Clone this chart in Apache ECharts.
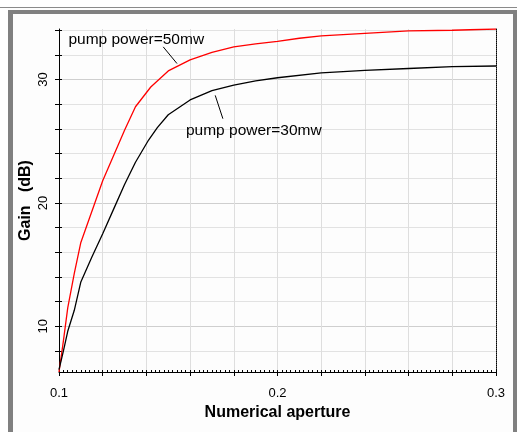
<!DOCTYPE html>
<html>
<head>
<meta charset="utf-8">
<script src="https://cdn.jsdelivr.net/npm/echarts@6/dist/echarts.min.js"></script>
<style>
html, body { margin: 0; padding: 0; background: #fff; }
#main { width: 517px; height: 432px; }
</style>
</head>
<body>
<div id="main"></div>
<script>
// pump power = 50mw (red)
var na50 = [0.100, 0.102, 0.104, 0.107, 0.110, 0.120, 0.130, 0.135, 0.142, 0.150, 0.160, 0.170, 0.180, 0.190, 0.200, 0.210, 0.220, 0.240, 0.260, 0.280, 0.300];
var gain50 = [6.3, 8.8, 11.5, 14.3, 16.8, 21.8, 25.9, 27.8, 29.4, 30.7, 31.6, 32.2, 32.65, 32.9, 33.1, 33.35, 33.55, 33.75, 33.95, 34.0, 34.1];
// pump power = 30mw (black)
var na30 = [0.100, 0.102, 0.104, 0.107, 0.110, 0.115, 0.120, 0.125, 0.130, 0.135, 0.141, 0.145, 0.150, 0.160, 0.170, 0.180, 0.190, 0.200, 0.220, 0.240, 0.260, 0.280, 0.300];
var gain30 = [6.5, 8.0, 9.6, 11.3, 13.6, 15.6, 17.5, 19.5, 21.5, 23.3, 25.1, 26.1, 27.15, 28.35, 29.1, 29.55, 29.9, 30.15, 30.55, 30.75, 30.9, 31.05, 31.1];

var yTicks = [8, 10, 12, 14, 16, 18, 20, 22, 24, 26, 28, 30, 32, 34];
var yLabels = [10, 20, 30];
var xLabels = [0.1, 0.2, 0.3];

var name50 = 'pump power=50mw';
var name30 = 'pump power=30mw';

function pairs(xs, ys) {
	var out = [];
	for (var i = 0; i < xs.length; i++) {
		out.push([xs[i], ys[i]]);
	}
	return out;
}

var font = 'Liberation Sans, Arial, sans-serif';

var chart = echarts.init(document.getElementById('main'));
var option = {
	backgroundColor: '#fdfdfd',
	animation: false,
	graphic: [
		{ type: 'rect', shape: { x: 0, y: 0, width: 517, height: 7 }, style: { fill: '#fff' } },
		{ type: 'rect', shape: { x: 0, y: 7, width: 517, height: 1 }, style: { fill: '#8a8a8a' } },
		{ type: 'rect', shape: { x: 0, y: 8, width: 8, height: 424 }, style: { fill: '#fff' } },
		{ type: 'rect', shape: { x: 8, y: 10, width: 509, height: 4 }, style: { fill: '#808080' } },
		{ type: 'rect', shape: { x: 8, y: 10, width: 5, height: 422 }, style: { fill: '#808080' } },
		{ type: 'rect', shape: { x: 513, y: 10, width: 4, height: 422 }, style: { fill: '#808080' } }
	],
	grid: {
		left: 59,
		right: 21,
		top: 29,
		bottom: 60
	},
	xAxis: [{
		type: 'value',
		min: 0.1,
		max: 0.3,
		interval: 0.02,
		name: 'Numerical aperture',
		nameLocation: 'middle',
		nameGap: 31,
		nameTextStyle: { color: '#000', fontSize: 16, fontWeight: 'bold', fontFamily: font },
		axisLine: { onZero: false, lineStyle: { color: '#000', width: 1 } },
		axisTick: { show: true, length: 4, lineStyle: { color: '#000' } },
		axisLabel: {
			color: '#000',
			fontSize: 13,
			fontFamily: font,
			margin: 15,
			formatter: function (v) {
				var r = Math.round(v * 100) / 100;
				return xLabels.indexOf(r) >= 0 ? r.toFixed(1) : '';
			}
		},
		splitLine: { show: true, lineStyle: { color: '#dedede', width: 1 } }
	}, {
		// dense hatch along the bottom axis
		type: 'value',
		min: 0.1,
		max: 0.3,
		interval: 0.002,
		position: 'bottom',
		axisLine: { show: false },
		axisTick: { show: true, inside: true, length: 2, lineStyle: { color: '#000' } },
		axisLabel: { show: false },
		splitLine: { show: false }
	}],
	yAxis: [{
		type: 'value',
		min: 6.3,
		max: 34.1,
		name: 'Gain   (dB)',
		nameLocation: 'middle',
		nameGap: 25,
		nameMoveOverlap: false,
		nameTextStyle: { color: '#000', fontSize: 16, fontWeight: 'bold', fontFamily: font },
		axisLine: { show: true, lineStyle: { color: '#000', width: 1 } },
		axisTick: { show: true, length: 4, customValues: yTicks, lineStyle: { color: '#000' } },
		axisLabel: {
			color: '#000',
			fontSize: 13,
			fontFamily: font,
			rotate: 90,
			margin: 9,
			customValues: yLabels
		},
		splitLine: {
			show: true,
			lineStyle: { color: ['#e2e2e2', '#cfcfcf', '#e2e2e2', '#e2e2e2', '#e2e2e2'], width: 1 }
		}
	}, {
		// inner half of the left ticks
		type: 'value',
		min: 6.3,
		max: 34.1,
		position: 'left',
		axisLine: { show: false },
		axisTick: { show: true, inside: true, length: 3, customValues: yTicks, lineStyle: { color: '#000' } },
		axisLabel: { show: false },
		splitLine: { show: false }
	}, {
		// dotted right edge
		type: 'value',
		min: 6.3,
		max: 34.1,
		position: 'right',
		axisLine: { show: true, lineStyle: { color: '#000', type: 'dotted', width: 1 } },
		axisTick: { show: false },
		axisLabel: { show: false },
		splitLine: { show: false }
	}],
	series: [{
		name: name50,
		type: 'line',
		data: pairs(na50, gain50),
		symbol: 'none',
		lineStyle: { color: '#ff0000', width: 1.3 },
		markLine: {
			silent: true,
			symbol: 'none',
			label: { show: false },
			lineStyle: { color: '#000', width: 1, type: 'solid' },
			data: [[{ coord: [0.1477, 32.65] }, { coord: [0.154, 31.3] }]]
		},
		markPoint: {
			silent: true,
			symbol: 'circle',
			symbolSize: 0,
			data: [{ coord: [0.1043, 33.2] }],
			label: {
				show: true,
				position: 'right',
				distance: 0,
				formatter: name50,
				color: '#000',
				fontSize: 15.5,
				fontFamily: font
			}
		}
	}, {
		name: name30,
		type: 'line',
		data: pairs(na30, gain30),
		symbol: 'none',
		lineStyle: { color: '#000000', width: 1.3 },
		markLine: {
			silent: true,
			symbol: 'none',
			label: { show: false },
			lineStyle: { color: '#000', width: 1, type: 'solid' },
			data: [[{ coord: [0.1715, 28.72] }, { coord: [0.175, 26.83] }]]
		},
		markPoint: {
			silent: true,
			symbol: 'circle',
			symbolSize: 0,
			data: [{ coord: [0.1581, 25.88] }],
			label: {
				show: true,
				position: 'right',
				distance: 0,
				formatter: name30,
				color: '#000',
				fontSize: 15.5,
				fontFamily: font
			}
		}
	}]
};
chart.setOption(option);
</script>
</body>
</html>
